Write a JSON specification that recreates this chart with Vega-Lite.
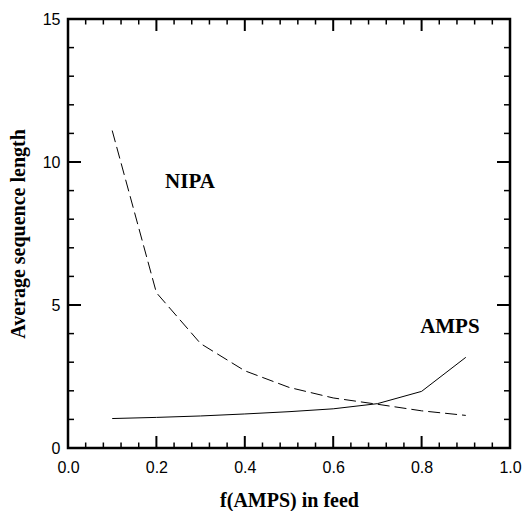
{
  "$schema": "https://vega.github.io/schema/vega-lite/v6.json",
  "autosize": "none",
  "padding": {"left": 68, "top": 19, "right": 13, "bottom": 63},
  "width": 442,
  "height": 429,
  "config": {
    "view": {"stroke": "black", "strokeWidth": 2.5},
    "axis": {"grid": false, "domain": false, "ticks": false, "labelColor": "black", "labelFont": "Liberation Sans", "labelFontSize": 16, "titleFont": "Liberation Serif", "titleFontWeight": "bold", "titleFontSize": 20, "titleColor": "black", "labelFlush": false}
  },
  "datasets": {
    "lines": [
      {"f": 0.1, "len": 11.1, "series": "NIPA"},
      {"f": 0.2, "len": 5.43, "series": "NIPA"},
      {"f": 0.3, "len": 3.65, "series": "NIPA"},
      {"f": 0.4, "len": 2.7, "series": "NIPA"},
      {"f": 0.5, "len": 2.12, "series": "NIPA"},
      {"f": 0.6, "len": 1.75, "series": "NIPA"},
      {"f": 0.7, "len": 1.53, "series": "NIPA"},
      {"f": 0.8, "len": 1.3, "series": "NIPA"},
      {"f": 0.9, "len": 1.14, "series": "NIPA"},
      {"f": 0.1, "len": 1.03, "series": "AMPS"},
      {"f": 0.2, "len": 1.07, "series": "AMPS"},
      {"f": 0.3, "len": 1.12, "series": "AMPS"},
      {"f": 0.4, "len": 1.19, "series": "AMPS"},
      {"f": 0.5, "len": 1.27, "series": "AMPS"},
      {"f": 0.6, "len": 1.37, "series": "AMPS"},
      {"f": 0.7, "len": 1.55, "series": "AMPS"},
      {"f": 0.8, "len": 1.98, "series": "AMPS"},
      {"f": 0.9, "len": 3.17, "series": "AMPS"}
    ],
    "labels": [
      {"f": 0.276, "len": 9.3, "label": "NIPA"},
      {"f": 0.864, "len": 4.24, "label": "AMPS"}
    ],
    "xmajor": [{"v": 0.2}, {"v": 0.4}, {"v": 0.6}, {"v": 0.8}],
    "xminor": [{"v": 0.04}, {"v": 0.08}, {"v": 0.12}, {"v": 0.16}, {"v": 0.24}, {"v": 0.28}, {"v": 0.32}, {"v": 0.36}, {"v": 0.44}, {"v": 0.48}, {"v": 0.52}, {"v": 0.56}, {"v": 0.64}, {"v": 0.68}, {"v": 0.72}, {"v": 0.76}, {"v": 0.84}, {"v": 0.88}, {"v": 0.92}, {"v": 0.96}],
    "ymajor": [{"v": 5}, {"v": 10}],
    "yminor": [{"v": 1}, {"v": 2}, {"v": 3}, {"v": 4}, {"v": 6}, {"v": 7}, {"v": 8}, {"v": 9}, {"v": 11}, {"v": 12}, {"v": 13}, {"v": 14}]
  },
  "layer": [
    {
      "data": {"name": "lines"},
      "transform": [{"filter": "datum.series === 'NIPA'"}],
      "mark": {"type": "line", "color": "black", "strokeWidth": 1, "strokeDash": [12, 5]},
      "encoding": {
        "x": {"field": "f", "type": "quantitative", "scale": {"domain": [0, 1], "nice": false}, "title": "f(AMPS) in feed",
          "axis": {"orient": "bottom", "values": [0, 0.2, 0.4, 0.6, 0.8, 1], "format": ".1f", "labelPadding": 11, "titleBaseline": "alphabetic", "titleY": 58}},
        "y": {"field": "len", "type": "quantitative", "scale": {"domain": [0, 15], "nice": false}, "title": "Average sequence length",
          "axis": {"orient": "left", "values": [0, 5, 10, 15], "labelPadding": 8, "titleBaseline": "middle", "titleX": -50}}
      }
    },
    {
      "data": {"name": "lines"},
      "transform": [{"filter": "datum.series === 'AMPS'"}],
      "mark": {"type": "line", "color": "black", "strokeWidth": 1},
      "encoding": {
        "x": {"field": "f", "type": "quantitative"},
        "y": {"field": "len", "type": "quantitative"}
      }
    },
    {
      "data": {"name": "labels"},
      "mark": {"type": "text", "font": "Liberation Serif", "fontWeight": "bold", "fontSize": 21, "color": "black"},
      "encoding": {
        "x": {"field": "f", "type": "quantitative"},
        "y": {"field": "len", "type": "quantitative"},
        "text": {"field": "label"}
      }
    },
    {
      "data": {"name": "xmajor"},
      "mark": {"type": "tick", "orient": "vertical", "size": 24, "thickness": 2, "color": "black", "opacity": 1, "clip": true},
      "encoding": {"x": {"field": "v", "type": "quantitative"}, "y": {"datum": 0, "type": "quantitative"}}
    },
    {
      "data": {"name": "xmajor"},
      "mark": {"type": "tick", "orient": "vertical", "size": 24, "thickness": 2, "color": "black", "opacity": 1, "clip": true},
      "encoding": {"x": {"field": "v", "type": "quantitative"}, "y": {"datum": 15, "type": "quantitative"}}
    },
    {
      "data": {"name": "xminor"},
      "mark": {"type": "tick", "orient": "vertical", "size": 11, "thickness": 1.5, "color": "black", "opacity": 1, "clip": true},
      "encoding": {"x": {"field": "v", "type": "quantitative"}, "y": {"datum": 0, "type": "quantitative"}}
    },
    {
      "data": {"name": "xminor"},
      "mark": {"type": "tick", "orient": "vertical", "size": 11, "thickness": 1.5, "color": "black", "opacity": 1, "clip": true},
      "encoding": {"x": {"field": "v", "type": "quantitative"}, "y": {"datum": 15, "type": "quantitative"}}
    },
    {
      "data": {"name": "ymajor"},
      "mark": {"type": "tick", "orient": "horizontal", "size": 26, "thickness": 2, "color": "black", "opacity": 1, "clip": true},
      "encoding": {"y": {"field": "v", "type": "quantitative"}, "x": {"datum": 0, "type": "quantitative"}}
    },
    {
      "data": {"name": "ymajor"},
      "mark": {"type": "tick", "orient": "horizontal", "size": 26, "thickness": 2, "color": "black", "opacity": 1, "clip": true},
      "encoding": {"y": {"field": "v", "type": "quantitative"}, "x": {"datum": 1, "type": "quantitative"}}
    },
    {
      "data": {"name": "yminor"},
      "mark": {"type": "tick", "orient": "horizontal", "size": 12, "thickness": 1.5, "color": "black", "opacity": 1, "clip": true},
      "encoding": {"y": {"field": "v", "type": "quantitative"}, "x": {"datum": 0, "type": "quantitative"}}
    },
    {
      "data": {"name": "yminor"},
      "mark": {"type": "tick", "orient": "horizontal", "size": 12, "thickness": 1.5, "color": "black", "opacity": 1, "clip": true},
      "encoding": {"y": {"field": "v", "type": "quantitative"}, "x": {"datum": 1, "type": "quantitative"}}
    }
  ]
}
